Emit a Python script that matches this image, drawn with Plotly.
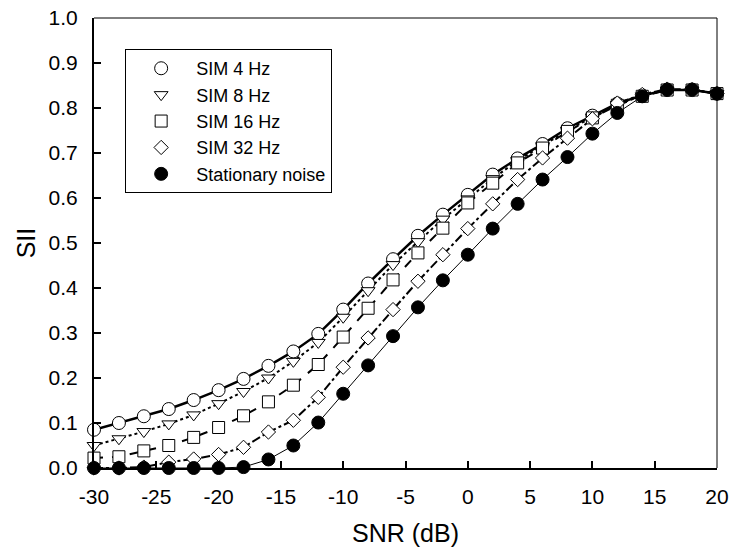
import plotly.graph_objects as go

snr = [-30, -28, -26, -24, -22, -20, -18, -16, -14, -12, -10, -8, -6, -4, -2,
       0, 2, 4, 6, 8, 10, 12, 14, 16, 18, 20]

sim4 = [0.085, 0.100, 0.115, 0.131, 0.151, 0.173, 0.198, 0.227, 0.259, 0.298, 0.352, 0.410, 0.464,
        0.516, 0.563, 0.607, 0.652, 0.688, 0.720, 0.755, 0.783, 0.810, 0.828, 0.840, 0.840, 0.832]
sim8 = [0.050, 0.065, 0.081, 0.098, 0.118, 0.143, 0.170, 0.200, 0.237, 0.279, 0.335, 0.394, 0.452,
        0.503, 0.553, 0.598, 0.643, 0.683, 0.716, 0.750, 0.780, 0.808, 0.827, 0.840, 0.840, 0.832]
sim16 = [0.022, 0.025, 0.038, 0.050, 0.068, 0.090, 0.116, 0.147, 0.184, 0.230, 0.291, 0.355, 0.418,
         0.478, 0.533, 0.589, 0.633, 0.678, 0.711, 0.748, 0.778, 0.806, 0.826, 0.840, 0.840, 0.832]
sim32 = [0.000, 0.000, 0.002, 0.013, 0.020, 0.030, 0.046, 0.080, 0.106, 0.157, 0.224, 0.289, 0.352,
         0.415, 0.474, 0.532, 0.587, 0.641, 0.689, 0.733, 0.776, 0.811, 0.830, 0.842, 0.841, 0.832]
stationary = [0.000, 0.000, 0.000, 0.000, 0.000, 0.000, 0.002, 0.019, 0.050, 0.101, 0.165, 0.228, 0.293,
              0.357, 0.417, 0.474, 0.532, 0.587, 0.641, 0.691, 0.743, 0.789, 0.826, 0.841, 0.841, 0.832]

x_tickvals = [-30, -25, -20, -15, -10, -5, 0, 5, 10, 15, 20]
x_ticktext = ["-30", "-25", "-20", "-15", "-10", "-5", "0", "5", "10", "15", "20"]
y_tickvals = [0.0, 0.1, 0.2, 0.3, 0.4, 0.5, 0.6, 0.7, 0.8, 0.9, 1.0]
y_ticktext = ["0.0", "0.1", "0.2", "0.3", "0.4", "0.5", "0.6", "0.7", "0.8", "0.9", "1.0"]

names = ["SIM 4 Hz", "SIM 8 Hz", "SIM 16 Hz", "SIM 32 Hz", "Stationary noise"]
series = [sim4, sim8, sim16, sim32, stationary]
symbols = ["circle", "triangle-down", "square", "diamond", "circle"]
sizes = [13, 12, 12, 11, 13]
fills = ["white", "white", "white", "white", "black"]
dashes = ["solid", "dot", "dash", "dashdot", "solid"]
widths = [2.5, 2, 2, 2, 1]

fig = go.Figure()
for ys, d, w in zip(series, dashes, widths):
    fig.add_trace(go.Scatter(x=snr, y=ys, mode="lines", showlegend=False,
                             line=dict(color="black", width=w, dash=d),
                             cliponaxis=False, hoverinfo="skip"))
for n, ys, s, sz, f in zip(names, series, symbols, sizes, fills):
    fig.add_trace(go.Scatter(x=snr, y=ys, mode="markers", name=n,
                             marker=dict(symbol=s, size=sz, color=f,
                                         line=dict(color="black", width=1)),
                             cliponaxis=False))

font = "Liberation Sans, Arial, sans-serif"
fig.update_layout(
    width=733, height=551,
    margin=dict(l=94, r=16, t=18, b=83, autoexpand=False),
    paper_bgcolor="white", plot_bgcolor="white",
    font=dict(family=font, size=21, color="black"),
    legend=dict(x=0.05, y=0.931, xanchor="left", yanchor="top",
                bgcolor="white", bordercolor="black", borderwidth=1,
                itemwidth=60, font=dict(size=18)),
    xaxis=dict(range=[-30, 20], tickvals=x_tickvals, ticktext=x_ticktext,
               ticks="inside", ticklen=7, tickwidth=2, tickcolor="black",
               showline=True, linecolor="black", linewidth=2, showgrid=False, zeroline=False,
               ticklabelstandoff=9, automargin=False,
               title=dict(text="SNR (dB)", standoff=17)),
    yaxis=dict(range=[0, 1], tickvals=y_tickvals, ticktext=y_ticktext,
               ticks="inside", ticklen=7, tickwidth=2, tickcolor="black",
               showline=True, linecolor="black", linewidth=2, showgrid=False, zeroline=False,
               ticklabelstandoff=10, automargin=False,
               title=dict(text="SII", standoff=6)),
)
fig.add_shape(type="line", xref="paper", yref="paper", x0=0, x1=1, y0=1, y1=1,
              line=dict(color="black", width=1))
fig.add_shape(type="line", xref="paper", yref="paper", x0=1, x1=1, y0=0, y1=1,
              line=dict(color="black", width=1))

fig.write_html("out.html")
